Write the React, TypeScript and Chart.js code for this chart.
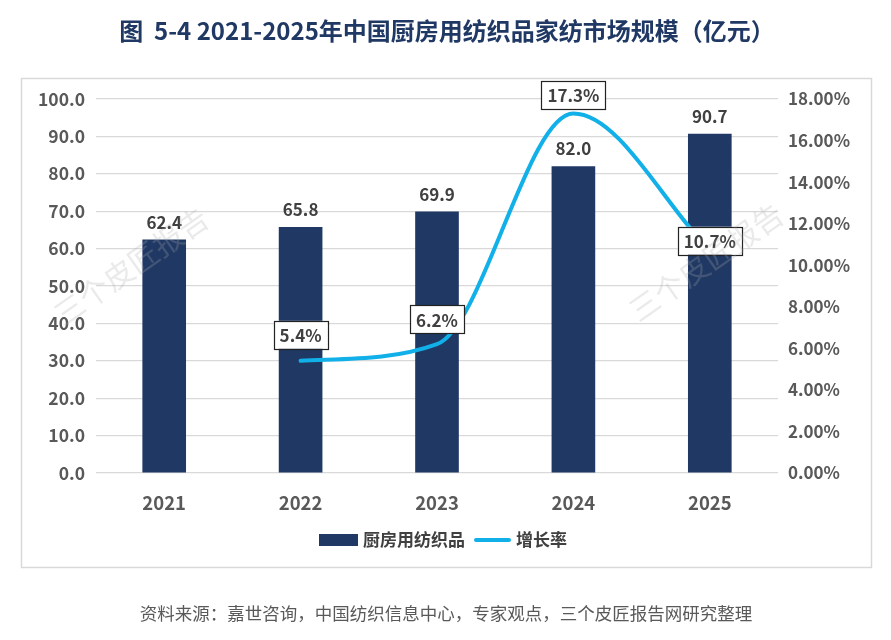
import React, { useEffect, useRef } from "react";
import { Chart, registerables } from "chart.js";

Chart.register(...registerables);

const years = ["2021", "2022", "2023", "2024", "2025"];
const marketSize = [62.4, 65.8, 69.9, 82.0, 90.7];
const growthRate: (number | null)[] = [null, 5.4, 6.2, 17.3, 10.7];
const growthLabels = ["", "5.4%", "6.2%", "17.3%", "10.7%"];

const barLabel = "厨房用纺织品";
const lineLabel = "增长率";
const titleText = "图  5-4 2021-2025年中国厨房用纺织品家纺市场规模（亿元）";
const sourceText = "资料来源：嘉世咨询，中国纺织信息中心，专家观点，三个皮匠报告网研究整理";
const watermarkText = "三个皮匠报告";

// label box lift above each line point (style)
const growthLabelLift = [0, 26, 25, 19, 10];

const W = 891;
const H = 640;
const FONT = '"Noto Sans CJK SC", "Noto Sans", sans-serif';
const NAVY = "#1F3864";
const CYAN = "#12B0E8";
const TEXT = "#404040";
const AXIS_TEXT = "#595959";

const decor = {
  id: "decor",
  beforeDraw(chart: any) {
    const ctx = chart.ctx;
    ctx.save();
    ctx.fillStyle = "#ffffff";
    ctx.fillRect(0, 0, W, H);
    // frame
    ctx.strokeStyle = "#d9d9d9";
    ctx.lineWidth = 1.5;
    ctx.strokeRect(21.5, 78.5, 850, 489);
    // title
    ctx.fillStyle = NAVY;
    ctx.font = `bold 24px ${FONT}`;
    ctx.textAlign = "center";
    ctx.textBaseline = "middle";
    ctx.fillText(titleText, 447, 31);
    // source
    ctx.fillStyle = AXIS_TEXT;
    ctx.font = `17.5px ${FONT}`;
    ctx.fillText(sourceText, 446, 613);
    ctx.restore();
  },
  afterDatasetsDraw(chart: any) {
    const ctx = chart.ctx;
    ctx.save();
    // bar value labels
    const barMeta = chart.getDatasetMeta(0);
    ctx.font = `bold 17px ${FONT}`;
    ctx.fillStyle = TEXT;
    ctx.textAlign = "center";
    ctx.textBaseline = "bottom";
    barMeta.data.forEach((el: any, i: number) => {
      ctx.fillText(marketSize[i].toFixed(1), el.x, el.y - 9);
    });
    // line labels in boxes
    const lineMeta = chart.getDatasetMeta(1);
    lineMeta.data.forEach((el: any, i: number) => {
      if (growthRate[i] == null) return;
      const txt = growthLabels[i];
      ctx.font = `bold 17px ${FONT}`;
      const tw = ctx.measureText(txt).width;
      const bw = tw + 12;
      const bh = 28;
      const cx = el.x;
      const cy = el.y - growthLabelLift[i];
      ctx.fillStyle = "#ffffff";
      ctx.fillRect(cx - bw / 2, cy - bh / 2, bw, bh);
      ctx.strokeStyle = "#222222";
      ctx.lineWidth = 1.2;
      ctx.strokeRect(Math.round(cx - bw / 2) + 0.5, Math.round(cy - bh / 2) + 0.5, Math.round(bw), bh);
      ctx.fillStyle = TEXT;
      ctx.textAlign = "center";
      ctx.textBaseline = "middle";
      ctx.fillText(txt, cx, cy + 1);
    });
    // legend
    const ds = chart.data.datasets;
    ctx.font = `bold 17px ${FONT}`;
    const t1 = ds[0].label;
    const t2 = ds[1].label;
    const w1 = ctx.measureText(t1).width;
    const w2 = ctx.measureText(t2).width;
    const sw1 = 39;
    const sw2 = 37;
    const total = sw1 + 5 + w1 + 9 + sw2 + 5 + w2;
    let x = 443 - total / 2;
    const ly = 540;
    ctx.fillStyle = ds[0].backgroundColor;
    ctx.fillRect(x, ly - 6, sw1, 12);
    x += sw1 + 5;
    ctx.fillStyle = TEXT;
    ctx.textAlign = "left";
    ctx.textBaseline = "middle";
    ctx.fillText(t1, x, ly);
    x += w1 + 9;
    ctx.strokeStyle = ds[1].borderColor;
    ctx.lineWidth = 4;
    ctx.lineCap = "round";
    ctx.beginPath();
    ctx.moveTo(x + 2, ly);
    ctx.lineTo(x + sw2 - 2, ly);
    ctx.stroke();
    x += sw2 + 5;
    ctx.fillStyle = TEXT;
    ctx.fillText(t2, x, ly);
    ctx.restore();
  },
  afterDraw(chart: any) {
    const ctx = chart.ctx;
    ctx.save();
    ctx.fillStyle = "rgba(170,170,170,0.25)";
    ctx.font = `30px ${FONT}`;
    ctx.textAlign = "center";
    ctx.textBaseline = "middle";
    const spots = [
      [131, 266],
      [706, 262],
    ];
    spots.forEach(([x, y]) => {
      ctx.save();
      ctx.translate(x, y);
      ctx.rotate((-35 * Math.PI) / 180);
      ctx.fillText(watermarkText, 0, 0);
      ctx.restore();
    });
    ctx.restore();
  },
};

export default function App() {
  const ref = useRef<HTMLCanvasElement>(null);
  useEffect(() => {
    if (!ref.current) return;
    const chart = new Chart(ref.current, {
      type: "bar",
      data: {
        labels: years,
        datasets: [
          {
            type: "bar",
            label: barLabel,
            data: marketSize,
            backgroundColor: NAVY,
            yAxisID: "y",
            barPercentage: 0.32,
            categoryPercentage: 1,
            order: 2,
          } as any,
          {
            type: "line",
            label: lineLabel,
            data: growthRate,
            borderColor: CYAN,
            backgroundColor: CYAN,
            borderWidth: 4,
            pointRadius: 0,
            cubicInterpolationMode: "monotone",
            yAxisID: "y1",
            order: 1,
            borderCapStyle: "round",
          } as any,
        ],
      },
      options: {
        responsive: false,
        animation: false,
        layout: { padding: { top: 99, left: 0, right: 0, bottom: 127 } },
        plugins: {
          legend: { display: false },
          title: { display: false },
          tooltip: { enabled: false },
        },
        scales: {
          x: {
            grid: { display: false },
            border: { display: false },
            ticks: {
              color: AXIS_TEXT,
              font: { family: FONT, size: 18.5, weight: "bold" },
              padding: 11,
            },
            afterFit(s: any) {
              s.height = 40;
              s.paddingLeft = 0;
              s.paddingRight = 0;
            },
          },
          y: {
            min: 0,
            max: 100,
            position: "left",
            grid: { color: "#d9d9d9", lineWidth: 1.2, drawTicks: false },
            border: { display: false },
            ticks: {
              stepSize: 10,
              padding: 11,
              color: AXIS_TEXT,
              font: { family: FONT, size: 17.5, weight: "bold" },
              callback: (v: any) => Number(v).toFixed(1),
            },
            afterFit(s: any) {
              s.width = 96;
              s.paddingTop = 0;
              s.paddingBottom = 0;
            },
          },
          y1: {
            min: 0,
            max: 18,
            position: "right",
            grid: { drawOnChartArea: false, drawTicks: false },
            border: { display: false },
            ticks: {
              stepSize: 2,
              padding: 10,
              color: AXIS_TEXT,
              font: { family: FONT, size: 17, weight: "bold" },
              callback: (v: any) => Number(v).toFixed(2) + "%",
            },
            afterFit(s: any) {
              s.width = W - 778;
              s.paddingTop = 0;
              s.paddingBottom = 0;
            },
          },
        } as any,
      },
      plugins: [decor],
    });
    return () => chart.destroy();
  }, []);
  return (
    <div style={{ position: "absolute", left: 0, top: 0, width: W, height: H, background: "#fff" }}>
      <canvas ref={ref} width={W} height={H} style={{ display: "block", width: W, height: H }} />
    </div>
  );
}
